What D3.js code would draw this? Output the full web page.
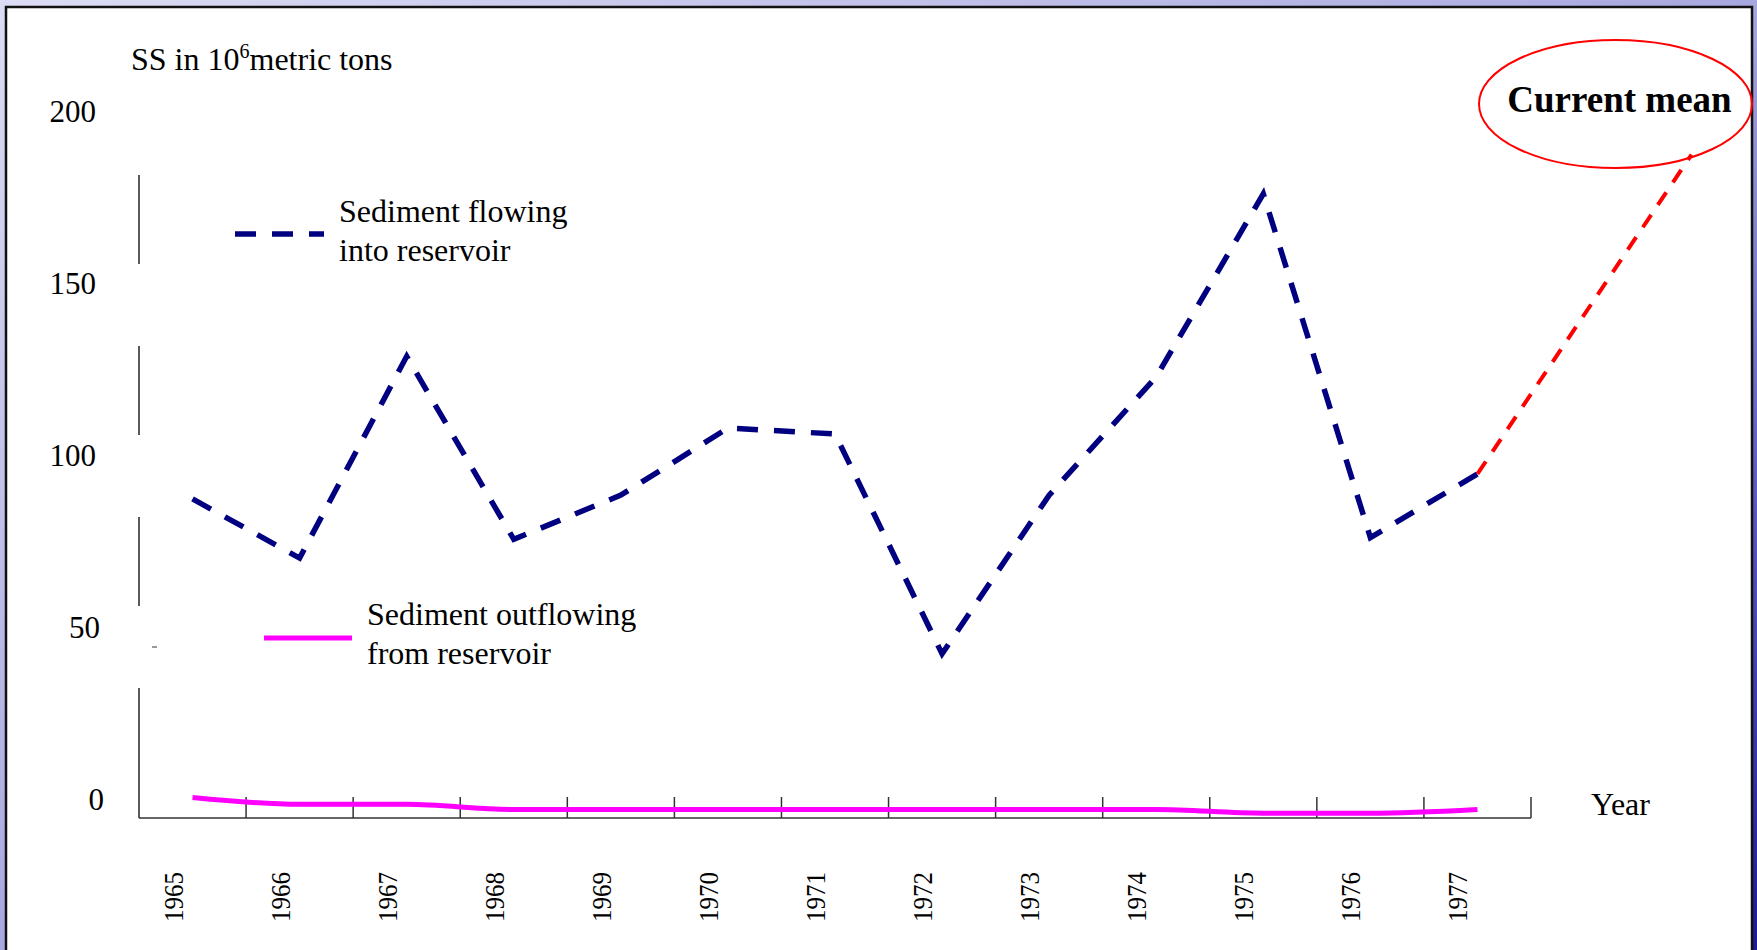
<!DOCTYPE html>
<meta charset="utf-8">
<script src="https://cdn.jsdelivr.net/npm/d3@7"></script>
<style>
  body { margin: 0; overflow: hidden; }
  text { font-family: "Liberation Serif", "Times New Roman", serif; fill: #000; }
</style>
<body>
<script>

var width = 1757
var height = 950

// data
var years = ["1965", "1966", "1967", "1968", "1969", "1970", "1971", "1972", "1973", "1974", "1975", "1976", "1977"]
var inflow = [93.3, 76, 135, 81.5, 94.4, 114, 112.3, 48, 94.4, 129, 182.5, 82, 100.6]
var outflow = [6.0, 4.0, 4.0, 2.5, 2.5, 2.5, 2.5, 2.5, 2.5, 2.5, 1.4, 1.4, 2.5]
var yTicks = [0, 50, 100, 150, 200]
var meanYear = 1979
var meanValue = 194

var svg = d3.select("body").append("svg")
    .attr("width", width)
    .attr("height", height)

// slide background
var defs = svg.append("defs")
var grad = defs.append("linearGradient").attr("id", "bg")
    .attr("x1", "0").attr("y1", "0").attr("x2", "1").attr("y2", "1")
grad.append("stop").attr("offset", "0").attr("stop-color", "#dcdcf4")
grad.append("stop").attr("offset", "0.5").attr("stop-color", "#a8a8e0")
grad.append("stop").attr("offset", "0.8").attr("stop-color", "#5050b8")
grad.append("stop").attr("offset", "1").attr("stop-color", "#1c1c94")

svg.append("rect").attr("width", width).attr("height", height).attr("fill", "url(#bg)")
svg.append("rect")
    .attr("x", 6).attr("y", 7)
    .attr("width", 1746).attr("height", 960)
    .attr("fill", "#fff")
    .attr("stroke", "#111")
    .attr("stroke-width", 2.5)

var x = d3.scaleBand().domain(years).range([139, 1531]).padding(0)
var bw = x.bandwidth()
var cx = function(yr) { return x(yr) + bw / 2 }
// linear version of the same axis, for the projection beyond 1977
var xl = d3.scaleLinear().domain([1964.5, 1977.5]).range([139, 1531])
var y = d3.scaleLinear().domain([0, 200]).range([818, 134])

// y axis: broken line, gaps around each tick label
var g = svg.append("g")
for (var i = 0; i < yTicks.length - 1; i++) {
  var lo = yTicks[i], hi = yTicks[i + 1]
  g.append("line")
    .attr("x1", 139).attr("x2", 139)
    .attr("y1", y(hi) + 41)
    .attr("y2", lo === 0 ? y(0) : y(lo) - 41)
    .attr("stroke", "#222").attr("stroke-width", 1.5)
}
g.append("line")
    .attr("x1", 152).attr("x2", 157)
    .attr("y1", y(50)).attr("y2", y(50))
    .attr("stroke", "#555").attr("stroke-width", 1.2)

g.selectAll(".ytick").data(yTicks).enter().append("text")
    .attr("class", "ytick")
    .attr("x", function(d) { return d < 100 ? 96 + (3 - String(d).length) * 4 : 96 })
    .attr("y", function(d) { return y(d) - 8 - d / 50 })
    .attr("text-anchor", "end")
    .style("font-size", "31px")
    .text(function(d) { return d })

// x axis
g.append("line")
    .attr("x1", 139).attr("x2", 1531)
    .attr("y1", y(0)).attr("y2", y(0))
    .attr("stroke", "#333").attr("stroke-width", 1.5)
g.selectAll(".xtick").data(years).enter().append("line")
    .attr("class", "xtick")
    .attr("x1", function(d) { return x(d) + bw }).attr("x2", function(d) { return x(d) + bw })
    .attr("y1", y(0)).attr("y2", y(0) - 21)
    .attr("stroke", "#333").attr("stroke-width", 1.5)

g.selectAll(".xlab").data(years).enter().append("text")
    .attr("class", "xlab")
    .attr("transform", function(d) { return "translate(" + (cx(d) - 10) + ",897) rotate(-90) scale(0.89,1)" })
    .attr("text-anchor", "middle")
    .style("font-size", "28px")
    .text(function(d) { return d })

svg.append("text")
    .attr("x", 1591).attr("y", 815)
    .style("font-size", "32px")
    .text("Year")

var title = svg.append("text").attr("x", 131).attr("y", 70).style("font-size", "32px")
title.append("tspan").text("SS in 10")
title.append("tspan").attr("dy", -12).style("font-size", "20px").text("6")
title.append("tspan").attr("dy", 12).text("metric tons")

// series
var line = d3.line()
    .x(function(d, i) { return cx(years[i]) })
    .y(function(d) { return y(d) })

svg.append("path")
    .attr("d", line.curve(d3.curveMonotoneX)(outflow))
    .attr("fill", "none")
    .attr("stroke", "#ff00ff")
    .attr("stroke-width", 5)

svg.append("path")
    .attr("d", line.curve(d3.curveLinear)(inflow))
    .attr("fill", "none")
    .attr("stroke", "#000080")
    .attr("stroke-width", 5.5)
    .attr("stroke-dasharray", "21 16")

var last = inflow.length - 1
svg.append("line")
    .attr("x1", cx(years[last])).attr("y1", y(inflow[last]))
    .attr("x2", xl(meanYear)).attr("y2", y(meanValue))
    .attr("stroke", "#ff0000")
    .attr("stroke-width", 4)
    .attr("stroke-dasharray", "15 12")

// current mean callout
svg.append("ellipse")
    .attr("cx", 1615.5).attr("cy", 104)
    .attr("rx", 136.5).attr("ry", 64)
    .attr("fill", "none")
    .attr("stroke", "#ff0000")
    .attr("stroke-width", 2)
svg.append("text")
    .attr("x", 1619.5).attr("y", 112)
    .attr("text-anchor", "middle")
    .style("font-size", "37px")
    .style("font-weight", "bold")
    .text("Current mean")

// legend
var legend = [
  {label: ["Sediment flowing", "into reservoir"], color: "#000080", dash: "21 16", w: 5.5, x1: 235, x2: 324, ly: 234, tx: 339, ty: 222},
  {label: ["Sediment outflowing", "from reservoir"], color: "#ff00ff", dash: null, w: 5, x1: 264, x2: 352, ly: 638, tx: 367, ty: 625}
]
legend.forEach(function(l) {
  svg.append("line")
    .attr("x1", l.x1).attr("x2", l.x2)
    .attr("y1", l.ly).attr("y2", l.ly)
    .attr("stroke", l.color)
    .attr("stroke-width", l.w)
    .attr("stroke-dasharray", l.dash)
  l.label.forEach(function(t, j) {
    svg.append("text")
      .attr("x", l.tx).attr("y", l.ty + j * 38.5)
      .style("font-size", "32px")
      .text(t)
  })
})

</script>
</body>
